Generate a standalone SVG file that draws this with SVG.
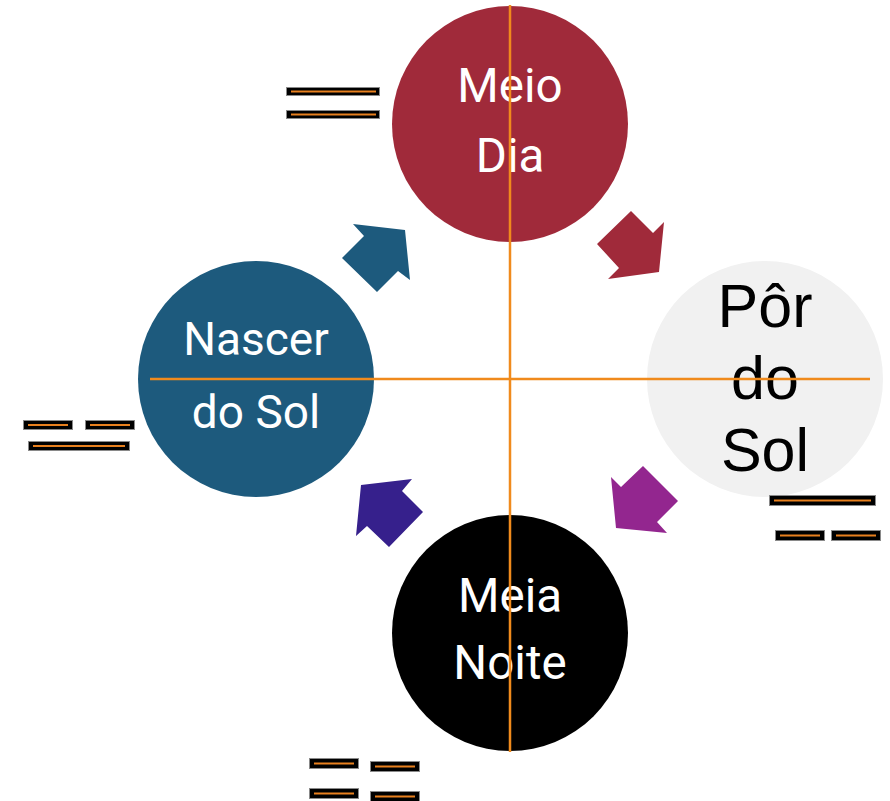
<svg xmlns="http://www.w3.org/2000/svg" width="890" height="801" viewBox="0 0 890 801">
<style>
.wt{font-family:Roboto,"Liberation Sans",sans-serif;fill:#fff;text-anchor:middle}
.bt{font-family:"Liberation Sans",Arial,sans-serif;fill:#000;text-anchor:middle;font-size:61px}
.bar{fill:#000;stroke:#8a8a8a;stroke-width:1}
.ln{stroke:#E8801E;stroke-width:2}
.axis{stroke:#F08A1C;stroke-width:2.5;fill:none}
</style>
<rect width="890" height="801" fill="#fff"/>
<g id="meio-dia">
<circle cx="510" cy="124" r="118" fill="#A02A3A"/>
<text class="wt" x="510" y="102" font-size="47.5">Meio</text>
<text class="wt" x="510" y="172" font-size="47.5">Dia</text>
</g>
<g id="nascer-do-sol">
<circle cx="256" cy="379" r="118" fill="#1D5A7D"/>
<text class="wt" x="256" y="355" font-size="46">Nascer</text>
<text class="wt" x="256" y="428" font-size="46">do Sol</text>
</g>
<g id="por-do-sol">
<circle cx="765" cy="379" r="118" fill="#F1F1F1"/>
<text class="bt" x="765" y="327">Pôr</text>
<text class="bt" x="765" y="399">do</text>
<text class="bt" x="765" y="471">Sol</text>
</g>
<g id="meia-noite">
<circle cx="510" cy="633" r="118" fill="#000"/>
<text class="wt" x="510" y="612" font-size="47.5">Meia</text>
<text class="wt" x="510" y="679" font-size="47.5">Noite</text>
</g>
<g id="connectors">
<polygon fill="#1D5A7D" points="353,224 405,230 410,280 398,271 377,292 342,258 364,236"/>
<polygon fill="#A02A3A" points="631,211 653,233 664,222 659,272 608,279 619,268 597,244"/>
<polygon fill="#93268F" points="643,466 678,501 657,522 667,533 616,528 611,477 621,487"/>
<polygon fill="#36208C" points="412,479 402,491 423,512 389,547 367,526 356,536 361,485"/>
</g>
<g id="axes">
<line class="axis" x1="510" y1="5" x2="510" y2="752"/>
<line class="axis" x1="150" y1="379" x2="870" y2="379"/>
</g>
<g id="trigram-meio-dia">
<rect class="bar" x="286.5" y="87.5" width="93" height="8"/><line class="ln" x1="291" y1="91.5" x2="376" y2="91.5"/>
<rect class="bar" x="286.5" y="110.5" width="93" height="8"/><line class="ln" x1="291" y1="114.5" x2="376" y2="114.5"/>
</g>
<g id="trigram-nascer">
<rect class="bar" x="23.5" y="420.5" width="49" height="9"/><line class="ln" x1="28" y1="425" x2="68" y2="425"/>
<rect class="bar" x="85.5" y="420.5" width="49" height="9"/><line class="ln" x1="90" y1="425" x2="130" y2="425"/>
<rect class="bar" x="28.5" y="441.5" width="101" height="9"/><line class="ln" x1="33" y1="446" x2="125" y2="446"/>
</g>
<g id="trigram-por">
<rect class="bar" x="769.5" y="495.5" width="106" height="10"/><line class="ln" x1="774" y1="500.5" x2="871" y2="500.5"/>
<rect class="bar" x="775.5" y="530.5" width="49" height="10"/><line class="ln" x1="780" y1="535.5" x2="820" y2="535.5"/>
<rect class="bar" x="831.5" y="530.5" width="49" height="10"/><line class="ln" x1="836" y1="535.5" x2="876" y2="535.5"/>
</g>
<g id="trigram-meia-noite">
<rect class="bar" x="309.5" y="758.5" width="49" height="10"/><line class="ln" x1="314" y1="763.5" x2="354" y2="763.5"/>
<rect class="bar" x="370.5" y="761.5" width="49" height="10"/><line class="ln" x1="375" y1="766.5" x2="415" y2="766.5"/>
<rect class="bar" x="309.5" y="788.5" width="49" height="10"/><line class="ln" x1="314" y1="793.5" x2="354" y2="793.5"/>
<rect class="bar" x="370.5" y="791.5" width="49" height="10"/><line class="ln" x1="375" y1="796.5" x2="415" y2="796.5"/>
</g>
</svg>
